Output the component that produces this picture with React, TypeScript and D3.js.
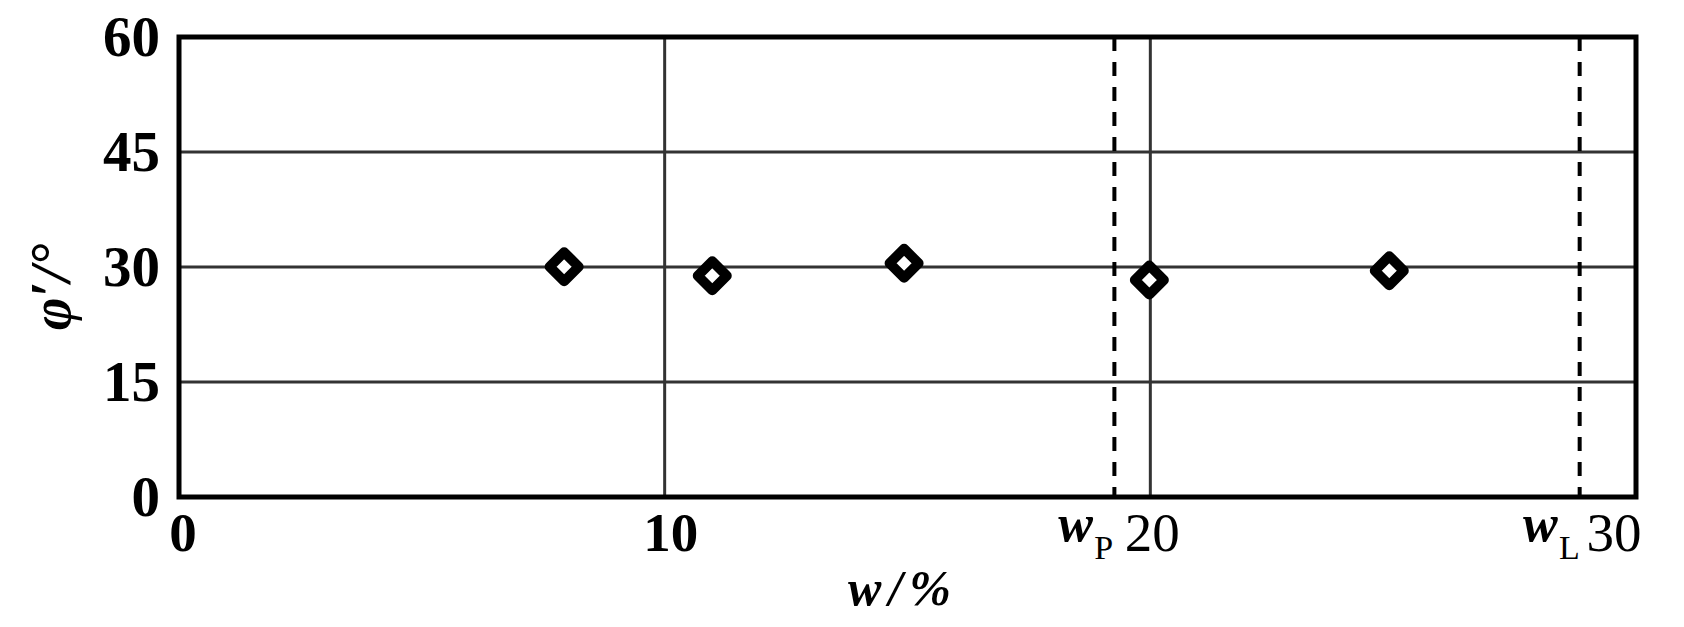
import React from "react";
import * as d3 from "d3";

const xTicks = [0, 10, 20, 30];
const xTickBold = [true, true, false, false];
const yTicks = [0, 15, 30, 45, 60];
const xGrid = [10, 20];
const yGrid = [15, 30, 45];
const waterContent = [7.93, 10.98, 14.93, 19.98, 24.92];
const frictionAngle = [30.04, 28.87, 30.48, 28.3, 29.52];
const limitNames = ["P", "L"];
const limitValues = [19.26, 28.84];

const W = 1684;
const H = 627;
const FONT = "'Liberation Serif', 'Times New Roman', serif";

export default function App() {
  const left = 179, right = 1636, top = 37, bottom = 497;
  const x = d3.scaleLinear().domain([0, 30]).range([left, right]);
  const y = d3.scaleLinear().domain([0, 60]).range([bottom, top]);
  const r = 14.5;
  const diamond = (cx: number, cy: number) =>
    `M${cx},${cy - r}L${cx + r},${cy}L${cx},${cy + r}L${cx - r},${cy}Z`;

  return (
    <svg
      width={W}
      height={H}
      style={{ position: "absolute", left: 0, top: 0, background: "#fff" }}
    >
      {/* grid */}
      {yGrid.map((v) => (
        <line key={"yg" + v} x1={left} x2={right} y1={y(v)} y2={y(v)} stroke="#333" strokeWidth={3} />
      ))}
      {xGrid.map((v) => (
        <line key={"xg" + v} x1={x(v)} x2={x(v)} y1={top} y2={bottom} stroke="#333" strokeWidth={3} />
      ))}
      {/* limit lines */}
      {limitValues.map((v, i) => (
        <line
          key={"lim" + i}
          x1={x(v)}
          x2={x(v)}
          y1={top}
          y2={bottom}
          stroke="#000"
          strokeWidth={4}
          strokeDasharray="14,11"
        />
      ))}
      {/* frame */}
      <rect x={left} y={top} width={right - left} height={bottom - top} fill="none" stroke="#000" strokeWidth={5} />
      {/* points */}
      {waterContent.map((w, i) => (
        <path
          key={"p" + i}
          d={diamond(x(w), y(frictionAngle[i]))}
          fill="#fff"
          stroke="#000"
          strokeWidth={10}
          strokeLinejoin="round"
        />
      ))}
      {/* y tick labels */}
      {yTicks.map((v) => (
        <text
          key={"yt" + v}
          x={160}
          y={y(v) + 19}
          textAnchor="end"
          fontFamily={FONT}
          fontWeight="bold"
          fontSize={57}
          fill="#000"
        >
          {v}
        </text>
      ))}
      {/* x tick labels */}
      {xTicks.map((v, i) => {
        let cx = x(v) + 4;
        if (v === 10) cx = x(v) + 6;
        if (v === 20) cx = x(v) + 2;
        if (v === 30) cx = x(v) - 22;
        return (
          <text
            key={"xt" + v}
            x={cx}
            y={551}
            textAnchor="middle"
            fontFamily={FONT}
            fontWeight={xTickBold[i] ? "bold" : "normal"}
            fontSize={55}
            fill="#000"
          >
            {v}
          </text>
        );
      })}
      {/* limit labels */}
      {limitValues.map((v, i) => {
        const base = i === 0 ? x(20) : x(30);
        const wx = base - (i === 0 ? 92 : 113);
        return (
          <g key={"ll" + i}>
            <text x={wx} y={541} fontFamily={FONT} fontStyle="italic" fontWeight="bold" fontSize={52} fill="#000">
              w
            </text>
            <text x={wx + 36} y={559} fontFamily={FONT} fontSize={34} fill="#000">
              {limitNames[i]}
            </text>
          </g>
        );
      })}
      {/* x axis title */}
      <text
        x={903}
        y={605}
        textAnchor="middle"
        fontFamily={FONT}
        fontStyle="italic"
        fontWeight="bold"
        fontSize={50}
        letterSpacing={7}
        fill="#000"
      >
        w/%
      </text>
      {/* y axis title */}
      <text
        transform="translate(70,287) rotate(-90)"
        textAnchor="middle"
        fontFamily={FONT}
        fontStyle="italic"
        fontWeight="bold"
        fontSize={56}
        fill="#000"
      >
        φ′/°
      </text>
    </svg>
  );
}
